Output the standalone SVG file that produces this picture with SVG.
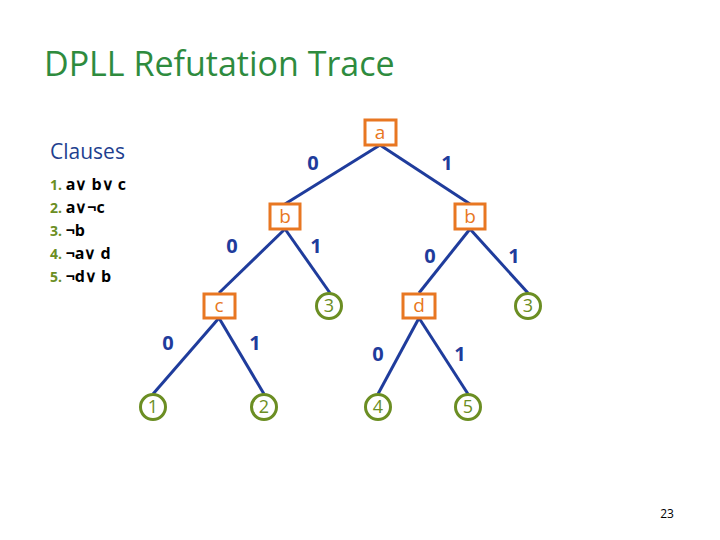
<svg xmlns="http://www.w3.org/2000/svg" width="720" height="540" viewBox="0 0 720 540">
<style>
text{font-family:"Open Sans","Liberation Sans",sans-serif}
.e{stroke:#1f3c9c;stroke-width:3;fill:none}
.lb{fill:#1f3c9c;font-size:20px;font-weight:bold;text-anchor:middle}
.bx{fill:#fff;stroke:#e87722;stroke-width:3}
.bt{fill:#e87722;font-size:19px;text-anchor:middle}
.cr{fill:#fff;stroke:#6b8e23;stroke-width:3}
.ct{fill:#6b8e23;font-size:18px;text-anchor:middle}
.n{fill:#6b8e23;font-weight:bold}
.cl{font-size:16px;font-weight:bold;fill:#000}
</style>
<rect width="720" height="540" fill="#fff"/>
<text x="44" y="76" font-size="34" fill="#2e8b3e">DPLL Refutation Trace</text>
<text x="50" y="159" font-size="21" fill="#1f3f8f">Clauses</text>
<g class="cl">
<text x="50" y="190"><tspan class="n" font-size="14">1. </tspan>a∨ b∨ c</text>
<text x="50" y="213"><tspan class="n" font-size="14">2. </tspan>a∨¬c</text>
<text x="50" y="236"><tspan class="n" font-size="14">3. </tspan>¬b</text>
<text x="50" y="259"><tspan class="n" font-size="14">4. </tspan>¬a∨ d</text>
<text x="50" y="282"><tspan class="n" font-size="14">5. </tspan>¬d∨ b</text>
</g>
<g id="edges">
<line class="e" x1="380" y1="145" x2="285" y2="204"/>
<line class="e" x1="380" y1="145" x2="470" y2="204"/>
<line class="e" x1="285" y1="229" x2="219" y2="293"/>
<line class="e" x1="285" y1="229" x2="330" y2="293"/>
<line class="e" x1="470" y1="229" x2="419" y2="293"/>
<line class="e" x1="470" y1="229" x2="528" y2="293"/>
<line class="e" x1="219" y1="318" x2="153" y2="394"/>
<line class="e" x1="219" y1="318" x2="264" y2="394"/>
<line class="e" x1="419" y1="318" x2="378" y2="394"/>
<line class="e" x1="419" y1="318" x2="468" y2="394"/>
<text class="lb" x="313" y="170">0</text><text class="lb" x="447" y="170">1</text>
<text class="lb" x="232" y="253">0</text><text class="lb" x="316" y="253">1</text>
<text class="lb" x="430" y="263">0</text><text class="lb" x="514" y="263">1</text>
<text class="lb" x="168" y="350">0</text><text class="lb" x="255" y="350">1</text>
<text class="lb" x="378" y="361">0</text><text class="lb" x="460" y="361">1</text>
</g>
<g id="a"><rect class="bx" x="365" y="120" width="31" height="25"/><text class="bt" x="380" y="139">a</text></g>
<g id="b1"><rect class="bx" x="270" y="204" width="30" height="25"/><text class="bt" x="285" y="223">b</text></g>
<g id="b2"><rect class="bx" x="455" y="204" width="30" height="25"/><text class="bt" x="470" y="223">b</text></g>
<g id="c"><rect class="bx" x="204" y="294" width="31" height="24"/><text class="bt" x="219" y="312">c</text></g>
<g id="d"><rect class="bx" x="403" y="294" width="32" height="24"/><text class="bt" x="419" y="312">d</text></g>
<g id="r3a"><circle class="cr" cx="329" cy="306" r="12.5"/><text class="ct" x="329" y="312">3</text></g>
<g id="r3b"><circle class="cr" cx="528" cy="306" r="12.5"/><text class="ct" x="528" y="312">3</text></g>
<g id="r1"><circle class="cr" cx="153" cy="407" r="12.5"/><text class="ct" x="153" y="413">1</text></g>
<g id="r2"><circle class="cr" cx="264" cy="407" r="12.5"/><text class="ct" x="264" y="413">2</text></g>
<g id="r4"><circle class="cr" cx="378" cy="407" r="12.5"/><text class="ct" x="378" y="413">4</text></g>
<g id="r5"><circle class="cr" cx="468" cy="407" r="12.5"/><text class="ct" x="468" y="413">5</text></g>
<text x="667" y="518" font-size="12" text-anchor="middle" fill="#000">23</text>
</svg>
